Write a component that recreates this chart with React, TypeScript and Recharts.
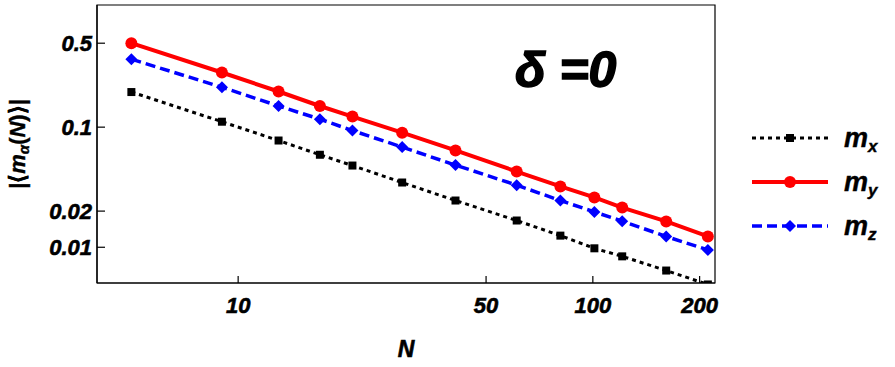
import React from "react";
import {
  LineChart,
  Line,
  XAxis,
  YAxis,
  Label,
  ReferenceArea,
} from "recharts";

// system sizes N and |<m_alpha(N)>| for delta = 0
const nValues = [5, 9, 13, 17, 21, 29, 41, 61, 81, 101, 121, 161, 211];
const mxValues = [0.196, 0.111, 0.0774, 0.0589, 0.0479, 0.0346, 0.0245, 0.0167, 0.0125, 0.0098, 0.0084, 0.0064, 0.0049];
const myValues = [0.5, 0.285, 0.198, 0.15, 0.1225, 0.09, 0.064, 0.0427, 0.0321, 0.026, 0.0214, 0.0164, 0.0123];
const mzValues = [0.368, 0.215, 0.15, 0.1166, 0.0937, 0.0682, 0.0483, 0.0329, 0.0245, 0.0197, 0.0165, 0.0123, 0.0095];

const xTicks = [10, 50, 100, 200];
const yTicks = [0.01, 0.02, 0.1, 0.5];
const xDomain = [4.0, 221];
const yDomain = [0.00504, 1.04];

const data = nValues.map((n, i) => ({
  n,
  mx: mxValues[i],
  my: myValues[i],
  mz: mzValues[i],
}));

const FONT = "'Liberation Sans', Arial, sans-serif";
const PLOT_LEFT = 97;

// heavy italic text, a thin stroke makes it closer to the original's weight
const heavy = {
  fontFamily: FONT,
  fontWeight: "bold" as const,
  fontStyle: "italic" as const,
  fill: "#000",
  stroke: "#000",
  strokeWidth: 0.6,
};

const XTick = ({ x, y, payload }: any) => (
  <g>
    <line x1={x} x2={x} y1={y} y2={y - 7} stroke="#000" strokeWidth={1.2} />
    <text x={x} y={y + 30} textAnchor="middle" fontSize={22} {...heavy}>
      {payload.value}
    </text>
  </g>
);

const YTick = ({ y, payload }: any) => (
  <g>
    <line x1={PLOT_LEFT} x2={PLOT_LEFT + 8} y1={y} y2={y} stroke="#000" strokeWidth={1.2} />
    <text x={PLOT_LEFT - 5} y={y + 8} textAnchor="end" fontSize={22} {...heavy}>
      {payload.value}
    </text>
  </g>
);

const squareDot = (p: any) => (
  <rect key={`mx-${p.index}`} x={p.cx - 4} y={p.cy - 4} width={8} height={8} fill="#000" />
);
const circleDot = (p: any) => (
  <circle key={`my-${p.index}`} cx={p.cx} cy={p.cy} r={6} fill="#f00" />
);
const diamondDot = (p: any) => (
  <polygon
    key={`mz-${p.index}`}
    points={`${p.cx},${p.cy - 6} ${p.cx + 6},${p.cy} ${p.cx},${p.cy + 6} ${p.cx - 6},${p.cy}`}
    fill="#00f"
  />
);

const legendItems = [
  { key: "mx", sub: "x", color: "#000", dash: "4 4", width: 3, marker: "square" },
  { key: "my", sub: "y", color: "#f00", dash: undefined, width: 4, marker: "circle" },
  { key: "mz", sub: "z", color: "#00f", dash: "10 5", width: 3.5, marker: "diamond" },
];

function LegendBox() {
  return (
    <svg
      width={143}
      height={130}
      style={{ position: "absolute", left: 752, top: 113 }}
    >
      {legendItems.map((it, i) => {
        const y = 25 + i * 44;
        return (
          <g key={it.key}>
            <line
              x1={0}
              x2={76}
              y1={y}
              y2={y}
              stroke={it.color}
              strokeWidth={it.width}
              strokeDasharray={it.dash}
            />
            {it.marker === "square" && <rect x={34} y={y - 4} width={8} height={8} fill={it.color} />}
            {it.marker === "circle" && <circle cx={38} cy={y} r={6} fill={it.color} />}
            {it.marker === "diamond" && (
              <polygon points={`38,${y - 6} 44,${y} 38,${y + 6} 32,${y}`} fill={it.color} />
            )}
            <text x={92} y={y + 9} fontSize={27} {...heavy} strokeWidth={0.4}>
              m
              <tspan fontSize={17} dy={5}>
                {it.sub}
              </tspan>
            </text>
          </g>
        );
      })}
    </svg>
  );
}

export default function App() {
  return (
    <div
      style={{
        position: "absolute",
        left: 0,
        top: 0,
        width: 895,
        height: 367,
        background: "#fff",
        fontFamily: FONT,
      }}
    >
      <LineChart
        width={895}
        height={367}
        data={data}
        margin={{ top: 5, right: 180, bottom: 0, left: 0 }}
      >
        <XAxis
          dataKey="n"
          type="number"
          scale="log"
          domain={xDomain}
          ticks={xTicks}
          allowDataOverflow
          height={84}
          tickSize={0}
          tickMargin={0}
          tickLine={false}
          tick={<XTick />}
          axisLine={{ stroke: "#000", strokeWidth: 1.2 }}
        >
          <Label
            content={({ viewBox }: any) => (
              <text
                x={viewBox.x + viewBox.width / 2}
                y={viewBox.y + 74}
                textAnchor="middle"
                fontSize={23}
                {...heavy}
              >
                N
              </text>
            )}
          />
        </XAxis>
        <YAxis
          type="number"
          scale="log"
          domain={yDomain}
          ticks={yTicks}
          allowDataOverflow
          width={97}
          tickSize={0}
          tickMargin={0}
          tickLine={false}
          tick={<YTick />}
          axisLine={{ stroke: "#000", strokeWidth: 1.2 }}
        >
          <Label
            content={({ viewBox }: any) => {
              const cy = viewBox.y + viewBox.height / 2;
              return (
                <text
                  x={25}
                  y={cy}
                  transform={`rotate(-90, 25, ${cy})`}
                  textAnchor="middle"
                  fontFamily={FONT}
                  fontSize={22}
                  fontWeight="bold"
                  fill="#000"
                  stroke="#000"
                  strokeWidth={0.4}
                >
                  |⟨
                  <tspan fontStyle="italic">m</tspan>
                  <tspan fontStyle="italic" fontSize={15} dy={4}>α</tspan>
                  <tspan dy={-4}>(</tspan>
                  <tspan fontStyle="italic">N</tspan>
                  )⟩|
                </text>
              );
            }}
          />
        </YAxis>
        <ReferenceArea
          x1={xDomain[0]}
          x2={xDomain[1]}
          y1={yDomain[0]}
          y2={yDomain[1]}
          fill="none"
          fillOpacity={0}
          stroke="#000"
          strokeWidth={1.2}
          ifOverflow="visible"
        />
        <Line
          dataKey="mx"
          stroke="#000"
          strokeWidth={3}
          strokeDasharray="4 4"
          dot={squareDot}
          isAnimationActive={false}
        />
        <Line
          dataKey="mz"
          stroke="#00f"
          strokeWidth={3.5}
          strokeDasharray="10 5"
          dot={diamondDot}
          isAnimationActive={false}
        />
        <Line
          dataKey="my"
          stroke="#f00"
          strokeWidth={4}
          dot={circleDot}
          isAnimationActive={false}
        />
      </LineChart>
      <div
        style={{
          position: "absolute",
          left: 515,
          top: 41,
          fontFamily: FONT,
          fontSize: 50,
          fontWeight: "bold",
          fontStyle: "italic",
          lineHeight: "58px",
          whiteSpace: "pre",
          WebkitTextStroke: "1.5px #000",
        }}
      >
        δ =0
      </div>
      <LegendBox />
    </div>
  );
}
